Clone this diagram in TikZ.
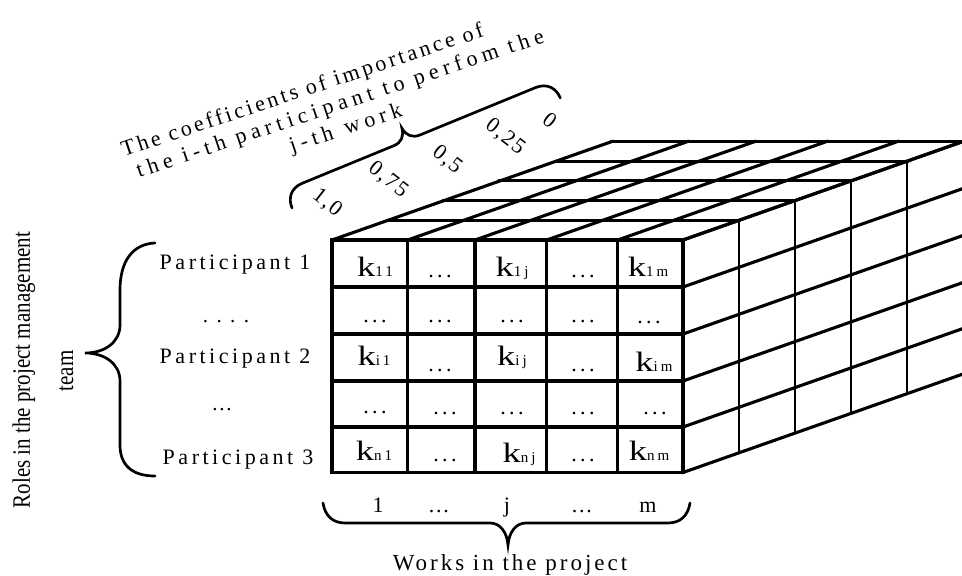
\documentclass[tikz,border=0pt]{standalone}
\usepackage{fontspec}
\usepackage{graphicx}
\setmainfont{Liberation Serif}
\newfontfamily\lsPart[LetterSpace=16]{Liberation Serif}
\newfontfamily\lsTitleA[LetterSpace=14]{Liberation Serif}
\newfontfamily\lsTitleB[LetterSpace=23]{Liberation Serif}
\newfontfamily\lsTitleC[LetterSpace=22]{Liberation Serif}
\newfontfamily\lsSub[LetterSpace=20]{Liberation Serif}
\newfontfamily\lsDots[LetterSpace=15]{Liberation Serif}
\newfontfamily\lsWideDots[LetterSpace=40]{Liberation Serif}
\newfontfamily\lsWorks[LetterSpace=13]{Liberation Serif}
\newfontfamily\lsNum[LetterSpace=8]{Liberation Serif}
\newcommand{\fsz}[1]{\fontsize{#1}{#1}\selectfont}
\newcommand{\kk}[1]{{\fsz{28}\scalebox{1.3}[1]{k}}{\lsSub\fsz{15}#1}}
\tikzset{
  gridln/.style={line width=3.1pt, line cap=rect},
  thinln/.style={line width=2pt},
  brc/.style={line width=2.7pt, line cap=round},
  cell/.style={anchor=base, inner sep=0pt},
  dotlbl/.style={anchor=base, inner sep=0pt, font=\lsDots\fsz{22}},
  part/.style={anchor=base, inner sep=0pt, font=\lsPart\fsz{22}},
  axlbl/.style={anchor=base, inner sep=0pt, font=\lsNum\fsz{22}},
  numlbl/.style={anchor=center, inner sep=0pt, rotate=-38, font=\lsNum\fsz{22}},
  ttl/.style={anchor=base west, inner sep=0pt, rotate=18.5},
  roles/.style={anchor=base, inner sep=0pt, rotate=90, font=\fsz{25}}
}
\begin{document}
\begin{tikzpicture}[x=1pt,y=-1pt]
\useasboundingbox (0,0) rectangle (962,576);
\clip (0,0) rectangle (962,576);
% ---- top face ----
\foreach \k in {0,...,5}
  \draw[gridln] ({332+56*\k},{240-19.7*\k}) -- ({683+56*\k},{240-19.7*\k});
\foreach \x in {332,407.7,475,546.7,617.7,683}
  \draw[gridln] (\x,240) -- ({\x+280},{240-98.5});
% ---- right face ----
\foreach \y in {240,287,334,381,427,472.5}
  \draw[gridln] (683,\y) -- (963,{\y-98.5});
\foreach \k in {1,...,5}
  \draw[thinln] ({683+56*\k},{240-19.7*\k}) -- ({683+56*\k},{472.5-19.7*\k});
% ---- front face ----
\foreach \x in {407.7,475,546.7,617.7}
  \draw[gridln] (\x,240) -- (\x,472.5);
\foreach \y in {287,334,381,427}
  \draw[gridln] (332,\y) -- (683,\y);
\draw[gridln] (332,240) rectangle (683,472.5);
% ---- cell labels ----
\node[cell] (k11) at (375,276) {\kk{11}};
\node[cell] (k1j) at (512,276) {\kk{1j}};
\node[cell] (k1m) at (648,276) {\kk{1m}};
\node[cell] (ki1) at (374,365) {\kk{i1}};
\node[cell] (kij) at (512,365) {\kk{ij}};
\node[cell] (kim) at (654,371) {\kk{im}};
\node[cell] (kn1) at (374,460) {\kk{n1}};
\node[cell] (knj) at (519,462) {\kk{nj}};
\node[cell] (knm) at (649,460) {\kk{nm}};
% dots
\node[dotlbl] (d12) at (440,277) {...};
\node[dotlbl] (d14) at (583,277) {...};
\node[dotlbl] (d21) at (375,322) {...};
\node[dotlbl] (d22) at (440,322) {...};
\node[dotlbl] (d23) at (512,322) {...};
\node[dotlbl] (d24) at (583,322) {...};
\node[dotlbl] (d25) at (649,323) {...};
\node[dotlbl] (d32) at (440,371) {...};
\node[dotlbl] (d34) at (583,371) {...};
\node[dotlbl] (d41) at (375,413) {...};
\node[dotlbl] (d42) at (445,414) {...};
\node[dotlbl] (d43) at (512,414) {...};
\node[dotlbl] (d44) at (583,414) {...};
\node[dotlbl] (d45) at (655,414) {...};
\node[dotlbl] (d52) at (445,461) {...};
\node[dotlbl] (d54) at (583,461) {...};
% ---- participants ----
\node[part] (p1) at (235,269) {Participant 1};
\node[anchor=base, inner sep=0pt, font=\lsWideDots\fsz{21}] (pd1) at (226,322) {....};
\node[part] (p2) at (235,363) {Participant 2};
\node[anchor=base, inner sep=0pt, font=\lsNum\fsz{21}] (pd2) at (222,410) {...};
\node[part] (p3) at (238,464) {Participant 3};
\draw[brc] (155,243) .. controls (132,244) and (120,262) .. (120,290) -- (120,325)
  .. controls (120,342) and (105,353) .. (85,353)
  .. controls (105,353) and (120,364) .. (120,381) -- (120,445)
  .. controls (120,465) and (132,476) .. (155,476);
\node[roles] (roles1) at (30,370) {\scalebox{0.84}[1]{Roles in the project management}};
\node[roles] (roles2) at (73,371) {\scalebox{0.84}[1]{team}};
% ---- works ----
\node[axlbl] (w1) at (378,512) {1};
\node[axlbl] (w2) at (439,512) {...};
\node[axlbl] (w3) at (507,512) {j};
\node[axlbl] (w4) at (582,512) {...};
\node[axlbl] (w5) at (648,512) {m};
\draw[brc] (323,503) .. controls (325,516) and (333,523) .. (345,523) -- (490,523)
  .. controls (500,523) and (507,532) .. (508,545)
  .. controls (509,532) and (516,523) .. (526,523) -- (668,523)
  .. controls (680,523) and (688,516) .. (690,503);
\node[anchor=base, inner sep=0pt, font=\lsWorks\fsz{23}] (works) at (510,570) {Works in the project};
% ---- coefficients ----
\node[numlbl] (c10) at (327,203) {1,0};
\node[numlbl] (c075) at (388,180) {0,75};
\node[numlbl] (c05) at (447,160) {0,5};
\node[numlbl] (c025) at (505,137) {0,25};
\node[numlbl] (c0) at (550,120) {0};
\begin{scope}[shift={(292,208)}, rotate=22.3]
\draw[brc] (0,0) .. controls (0,-10) and (6,-19) .. (19,-19) -- (118,-19)
  .. controls (126,-19) and (131,-24) .. (132,-32)
  .. controls (133,-24) and (138,-19) .. (146,-19) -- (271,-19)
  .. controls (284,-19) and (290,-10) .. (290,0);
\end{scope}
\node[ttl, font=\lsTitleA\fsz{22}] (t1) at (124,157) {The coefficients of importance of};
\node[ttl, font=\lsTitleB\fsz{22}] (t2) at (139,178) {the i-th participant to perfom the};
\node[ttl, font=\lsTitleC\fsz{22}] (t3) at (292,153) {j-th\hspace{2pt} work};
\end{tikzpicture}
\end{document}
